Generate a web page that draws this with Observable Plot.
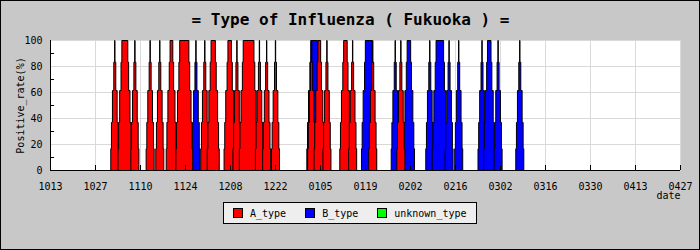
<!DOCTYPE html>
<html>
<head>
<meta charset="utf-8">
<script src="https://cdn.jsdelivr.net/npm/d3@7"></script>
<script src="https://cdn.jsdelivr.net/npm/@observablehq/plot@0.6"></script>
<style>
  html, body { margin: 0; padding: 0; background: #c8c8c8; }
  #wrap { position: relative; width: 700px; height: 250px; overflow: hidden; }
  #border { position: absolute; left: 0; top: 0; width: 700px; height: 250px; box-sizing: border-box; border: 1px solid #000; pointer-events: none; }
  #legend { position: absolute; left: 223px; top: 202px; width: 254px; height: 22px; box-sizing: border-box;
            background: #eeeeee; border: 1px solid #000; display: flex; align-items: center; padding-left: 9px;
            font-family: "DejaVu Sans Mono", monospace; font-size: 10px; color: #000; }
  .item { display: flex; align-items: center; margin-right: 19px; }
  .sw { width: 10px; height: 10px; box-sizing: border-box; border: 1px solid #000; margin-right: 7px; }
</style>
</head>
<body>
<div id="wrap"><div id="border"></div></div>
<script>
// ---- data ----
const title = "= Type of Influenza ( Fukuoka ) =";
const yLabel = "Positive_rate(%)";
const xLabel = "date";
const xDomain = ["2014-10-13T00", "2015-04-27T00"];
const tickDates = ["2014-10-13T00","2014-10-27T00","2014-11-10T00","2014-11-24T00","2014-12-08T00",
  "2014-12-22T00","2015-01-05T00","2015-01-19T00","2015-02-02T00","2015-02-16T00","2015-03-02T00",
  "2015-03-16T00","2015-03-30T00","2015-04-13T00","2015-04-27T00"];
const yTicks = [0, 20, 40, 60, 80, 100];
const yMinorTicks = [10, 30, 50, 70, 90];

// A_type positive periods (start / end of each 100% peak)
const aStart = ["2014-11-02T00","2014-11-04T06","2014-11-08T06","2014-11-13T00","2014-11-16T00",
  "2014-11-19T06","2014-11-22T06","2014-11-30T00","2014-12-02T00","2014-12-07T06","2014-12-10T00",
  "2014-12-12T00","2014-12-17T00","2014-12-19T06","2014-12-22T00","2015-01-02T06","2015-01-04T06",
  "2015-01-07T00","2015-01-12T06","2015-01-15T00","2015-01-21T06","2015-01-30T00"];
const aEnd = ["2014-11-02T00","2014-11-06T00","2014-11-08T06","2014-11-13T00","2014-11-16T00",
  "2014-11-20T00","2014-11-25T00","2014-11-30T00","2014-12-03T06","2014-12-08T06","2014-12-10T00",
  "2014-12-15T06","2014-12-17T00","2014-12-19T06","2014-12-22T00","2015-01-02T06","2015-01-05T00",
  "2015-01-07T00","2015-01-13T06","2015-01-15T00","2015-01-21T06","2015-01-30T00"];
// B_type positive periods
const bStart = ["2014-11-27T06","2015-01-02T00","2015-01-19T00","2015-01-28T06","2015-02-01T00",
  "2015-02-08T00","2015-02-10T00","2015-02-14T00","2015-02-17T00","2015-02-24T06","2015-02-26T00",
  "2015-03-01T06","2015-03-08T00"];
const bEnd = ["2014-11-27T06","2015-01-04T00","2015-01-21T00","2015-01-28T06","2015-02-02T00",
  "2015-02-08T00","2015-02-12T06","2015-02-14T00","2015-02-17T00","2015-02-24T06","2015-02-27T00",
  "2015-03-01T06","2015-03-08T00"];

const seriesNames = ["A_type", "B_type", "unknown_type"];
const seriesColors = ["#ff0000", "#0000ff", "#00ff00"];

// ---- shape of each peak (stepped silhouette) ----
const LEVELS = [0, 16.7, 37, 61.5, 83.3, 100];
const HALF = [1.25, 1.04, 0.73, 0.31, 0.05]; // days
const DAY = 864e5;
const parse = d3.utcParse("%Y-%m-%dT%H");

function peaks(starts, ends, prefix) {
  const pts = [];
  starts.forEach((st, k) => {
    const s = +parse(st), e = +parse(ends[k]), id = prefix + k;
    const first = {id, x: new Date(s - HALF[0] * DAY), y: LEVELS[0]};
    pts.push(first);
    for (let i = 0; i < HALF.length; i++) {
      pts.push({id, x: new Date(s - HALF[i] * DAY), y: LEVELS[i]});
      pts.push({id, x: new Date(s - HALF[i] * DAY), y: LEVELS[i + 1]});
    }
    for (let i = HALF.length - 1; i >= 0; i--) {
      pts.push({id, x: new Date(e + HALF[i] * DAY), y: LEVELS[i + 1]});
      pts.push({id, x: new Date(e + HALF[i] * DAY), y: LEVELS[i]});
    }
    pts.push({...first});
  });
  return pts;
}
const aPts = peaks(aStart, aEnd, "A");
const bPts = peaks(bStart, bEnd, "B");
const ticks = tickDates.map(parse);
const font = "DejaVu Sans Mono";

const chart = Plot.plot({
  width: 700, height: 250,
  marginLeft: 50, marginRight: 20, marginTop: 40, marginBottom: 80,
  style: {background: "#c8c8c8", fontFamily: font, fontSize: "10px", color: "#000", overflow: "visible"},
  x: {type: "utc", domain: xDomain.map(parse)},
  y: {domain: [0, 100]},
  marks: [
    Plot.frame({fill: "white", stroke: "none"}),
    Plot.gridX(ticks, {stroke: "#d9d9d9", strokeOpacity: 1}),
    Plot.gridY(yTicks, {stroke: "#d9d9d9", strokeOpacity: 1}),
    Plot.line(bPts, {x: "x", y: "y", z: "id", fill: seriesColors[1], stroke: "#000", strokeWidth: 1,
      strokeLinejoin: "miter", strokeLinecap: "butt", curve: "linear"}),
    Plot.line(aPts, {x: "x", y: "y", z: "id", fill: seriesColors[0], stroke: "#000", strokeWidth: 1,
      strokeLinejoin: "miter", strokeLinecap: "butt", curve: "linear"}),
    Plot.tickY(yMinorTicks, {y: d => d, insetRight: 626, stroke: "#000"}),
    Plot.tickX(ticks, {x: d => d, insetTop: 125, stroke: "#000"}),
    Plot.ruleY([0], {stroke: "#000"}),
    Plot.ruleX(xDomain.slice(0, 1).map(parse), {stroke: "#000"}),
    Plot.axisX({ticks, tickFormat: d3.utcFormat("%m%d"), tickSize: 0, tickPadding: 12, label: null,
      fontSize: 10, fontFamily: font}),
    Plot.axisY({ticks: yTicks, tickSize: 0, tickPadding: 8, label: null, fontSize: 10, fontFamily: font}),
    Plot.text([yLabel], {text: d => d, frameAnchor: "left", textAnchor: "middle", rotate: -90, dx: -30, dy: 0, fontSize: 10, fontFamily: font}),
    Plot.text([xLabel], {text: d => d, frameAnchor: "bottom-right", textAnchor: "end", dy: 28.5, fontSize: 10, fontFamily: font}),
    Plot.text([title], {text: d => d, frameAnchor: "top", dx: -15, dy: -27, fontSize: 16, fontWeight: "bold", fontFamily: font})
  ]
});
const wrap = document.getElementById("wrap");
wrap.insertBefore(chart, wrap.firstChild);

// legend
const lg = document.createElement("div");
lg.id = "legend";
seriesNames.forEach((n, i) => {
  const it = document.createElement("div");
  it.className = "item";
  const sw = document.createElement("div");
  sw.className = "sw";
  sw.style.background = seriesColors[i];
  const t = document.createElement("span");
  t.textContent = n;
  it.appendChild(sw); it.appendChild(t);
  lg.appendChild(it);
});
wrap.appendChild(lg);
</script>
</body>
</html>
